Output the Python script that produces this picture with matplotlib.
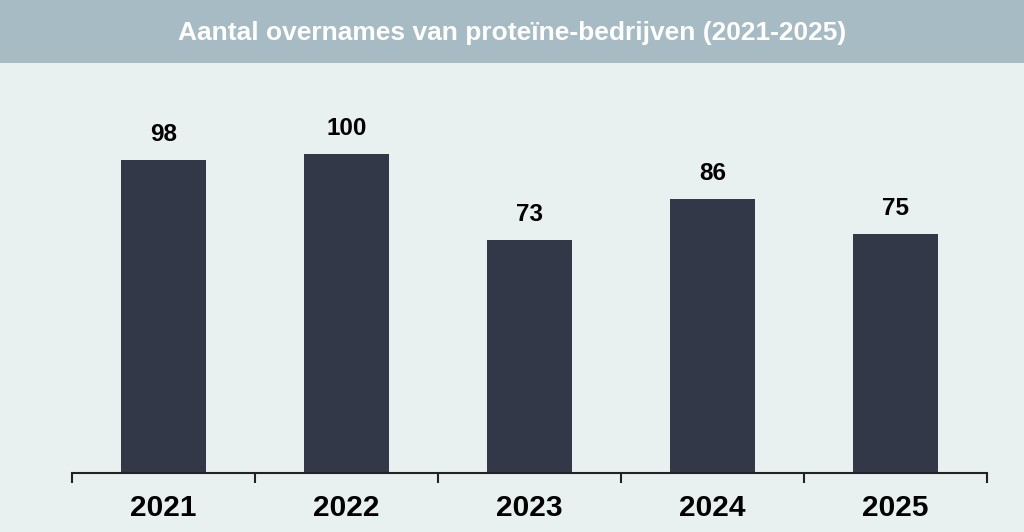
import matplotlib.pyplot as plt
from matplotlib.patches import Rectangle

years = ["2021", "2022", "2023", "2024", "2025"]
deals = [98, 100, 73, 86, 75]

title = "Aantal overnames van proteïne-bedrijven (2021-2025)"

bg_color = "#e9f0f0"
band_color = "#a6bbc4"
bar_color = "#333849"

fig = plt.figure(figsize=(10.24, 5.32), dpi=100)
fig.patch.set_facecolor(bg_color)

# Title band
fig.patches.append(Rectangle((0, 1 - 63 / 532), 1, 63 / 532, transform=fig.transFigure,
                             facecolor=band_color, edgecolor="none", zorder=0))
fig.text(0.5, 1 - 33 / 532, title, ha="center", va="center", color="white",
         fontsize=19, fontweight="bold", family="Liberation Sans")

# Axes placed so the baseline sits at y=473 px and spans x 72..987 px
left, right = 72 / 1024, 987 / 1024
bottom = 1 - 473 / 532
height = (473 - 60) / 532
ax = fig.add_axes([left, bottom, right - left, height])
ax.set_facecolor("none")

x = list(range(len(years)))
ax.bar(x, deals, width=0.46, color=bar_color)

ax.set_xlim(-0.5, len(years) - 0.5)
# 100 units = 319 px; axes height 413 px
ax.set_ylim(0, 100 * 413 / 319)

for xi, v in zip(x, deals):
    ax.annotate(str(v), (xi, v), xytext=(0, 10), textcoords="offset points",
                ha="center", va="bottom", fontsize=17.5, fontweight="bold",
                family="Liberation Sans")

for s in ["top", "right", "left"]:
    ax.spines[s].set_visible(False)
ax.spines["bottom"].set_linewidth(1.5)
ax.spines["bottom"].set_color("#222222")
ax.set_yticks([])

# ticks at category boundaries, labels centered
ax.set_xticks([i - 0.5 for i in range(len(years) + 1)])
ax.set_xticklabels([])
ax.tick_params(axis="x", length=7, width=1.5, color="#222222")
for xi, lab in zip(x, years):
    ax.text(xi, -0.052, lab, transform=ax.get_xaxis_transform(), ha="center", va="top",
            fontsize=21.5, fontweight="bold", family="Liberation Sans")

fig.savefig("out.png", dpi=100, facecolor=fig.get_facecolor())
